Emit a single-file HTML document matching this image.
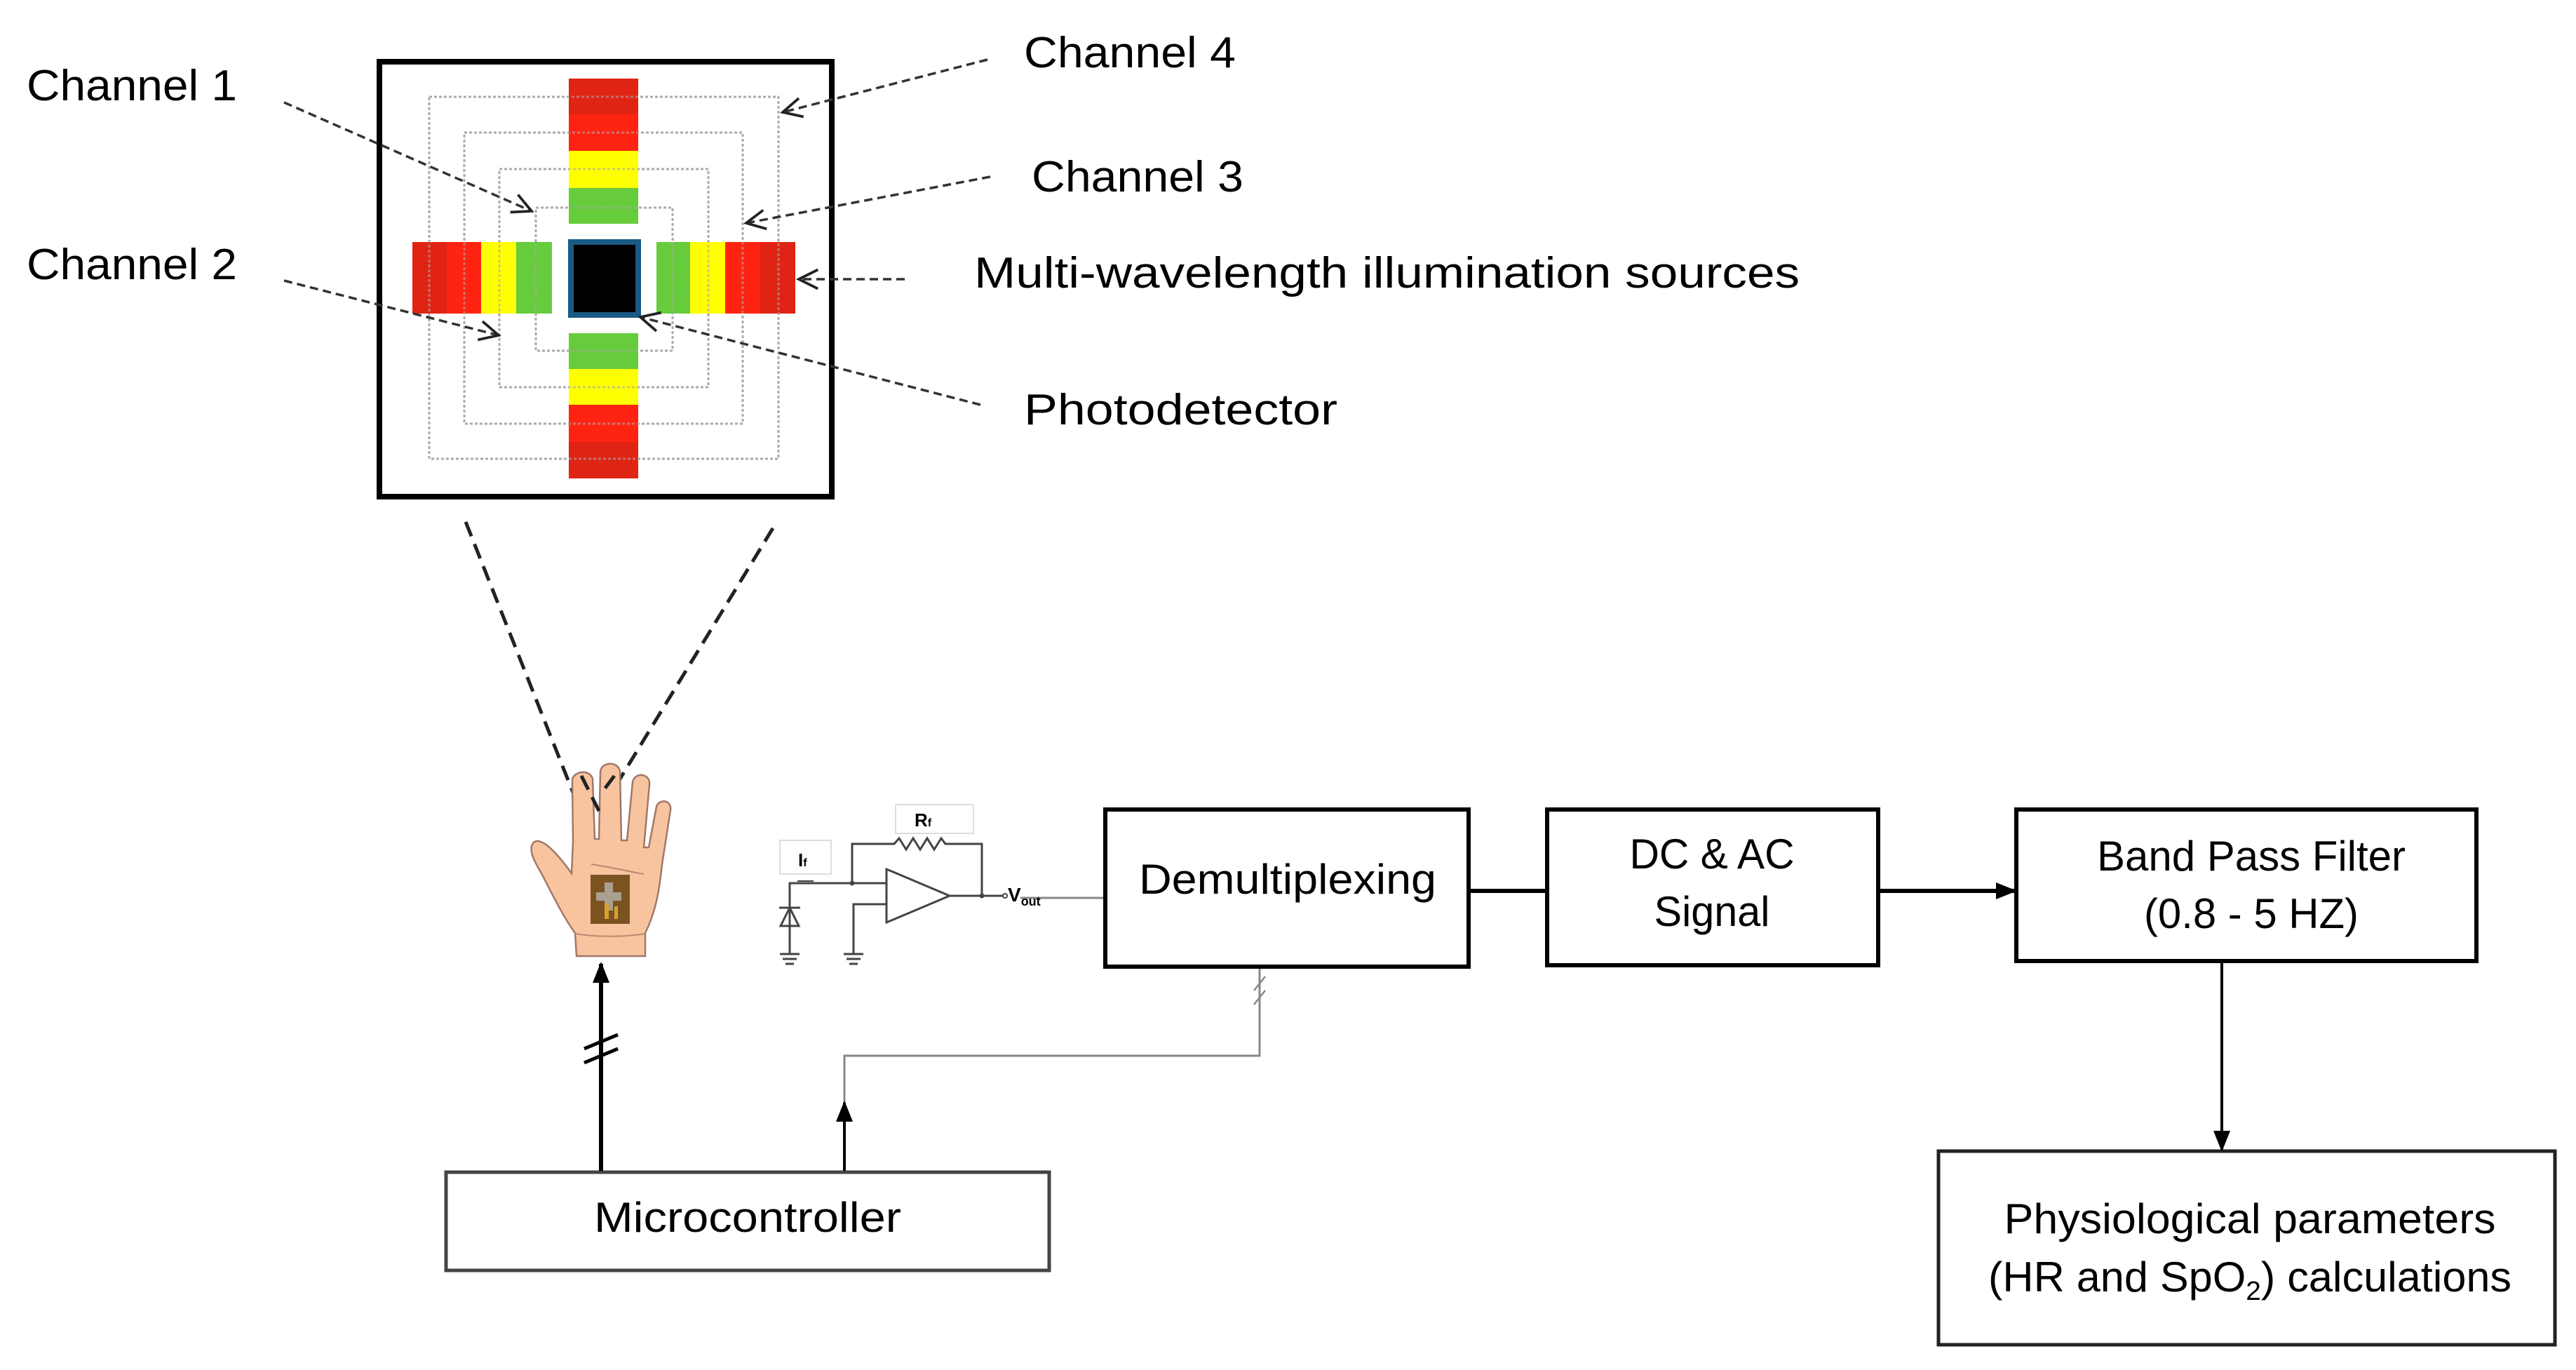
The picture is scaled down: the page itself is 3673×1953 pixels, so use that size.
<!DOCTYPE html>
<html><head><meta charset="utf-8"><style>
html,body{margin:0;padding:0;background:#fff;}
svg{display:block;}
text{font-family:"Liberation Sans",sans-serif;fill:#000;}
</style></head><body>
<svg width="3673" height="1953" viewBox="0 0 3673 1953" xmlns="http://www.w3.org/2000/svg">
<defs>
<marker id="open" viewBox="0 0 20 20" refX="18" refY="10" markerWidth="34" markerHeight="34" markerUnits="userSpaceOnUse" orient="auto">
<path d="M2,2 L18,10 L2,18" fill="none" stroke="#222" stroke-width="2.2"/>
</marker>
<marker id="solid" viewBox="0 0 20 20" refX="18" refY="10" markerWidth="30" markerHeight="30" markerUnits="userSpaceOnUse" orient="auto">
<path d="M0,2 L20,10 L0,18 Z" fill="#000"/>
</marker>
</defs>

<rect x="541" y="88" width="645" height="620" fill="#fff" stroke="#000" stroke-width="8"/>
<g fill="none" stroke="#aaa" stroke-width="3" stroke-dasharray="4,3">
<rect x="612" y="138" width="498" height="516"/>
<rect x="662" y="189" width="397" height="415"/>
<rect x="712" y="241" width="298" height="311"/>
<rect x="764" y="296" width="195" height="204"/>
</g>
<rect x="811" y="112" width="99" height="51" fill="#e02414"/>
<rect x="811" y="163" width="99" height="52" fill="#ff2412"/>
<rect x="811" y="215" width="99" height="53" fill="#ffff00"/>
<rect x="811" y="268" width="99" height="51" fill="#66cc3c"/>
<rect x="811" y="475" width="99" height="51" fill="#66cc3c"/>
<rect x="811" y="526" width="99" height="51" fill="#ffff00"/>
<rect x="811" y="577" width="99" height="53" fill="#ff2412"/>
<rect x="811" y="630" width="99" height="52" fill="#e02414"/>
<rect x="588" y="345" width="49" height="102" fill="#e02414"/>
<rect x="637" y="345" width="49" height="102" fill="#ff2412"/>
<rect x="686" y="345" width="50" height="102" fill="#ffff00"/>
<rect x="736" y="345" width="51" height="102" fill="#66cc3c"/>
<rect x="936" y="345" width="48" height="102" fill="#66cc3c"/>
<rect x="984" y="345" width="50" height="102" fill="#ffff00"/>
<rect x="1034" y="345" width="50" height="102" fill="#ff2412"/>
<rect x="1084" y="345" width="50" height="102" fill="#e02414"/>
<g fill="none" stroke="#aaa" stroke-width="3" stroke-dasharray="4,3" opacity="0.6">
<rect x="612" y="138" width="498" height="516"/>
<rect x="662" y="189" width="397" height="415"/>
<rect x="712" y="241" width="298" height="311"/>
<rect x="764" y="296" width="195" height="204"/>
</g>
<rect x="814" y="345" width="96" height="104" fill="#000" stroke="#1a5a86" stroke-width="8"/>

<g stroke="#333" stroke-width="3.5" stroke-dasharray="12,7" fill="none" marker-end="url(#open)">
<line x1="405" y1="146" x2="758" y2="301"/>
<line x1="405" y1="400" x2="711" y2="478"/>
<line x1="1408" y1="85" x2="1116" y2="160"/>
<line x1="1412" y1="252" x2="1064" y2="318"/>
<line x1="1290" y1="398" x2="1139" y2="398"/>
<line x1="1398" y1="577" x2="913" y2="452"/>
</g>

<text x="38" y="143" font-size="62" textLength="300" lengthAdjust="spacingAndGlyphs">Channel 1</text>
<text x="38" y="398" font-size="62" textLength="300" lengthAdjust="spacingAndGlyphs">Channel 2</text>
<text x="1460" y="96" font-size="62" textLength="302" lengthAdjust="spacingAndGlyphs">Channel 4</text>
<text x="1471" y="273" font-size="62" textLength="302" lengthAdjust="spacingAndGlyphs">Channel 3</text>
<text x="1389" y="410" font-size="62" textLength="1177" lengthAdjust="spacingAndGlyphs">Multi-wavelength illumination sources</text>
<text x="1460" y="605" font-size="62" textLength="447" lengthAdjust="spacingAndGlyphs">Photodetector</text>

<g stroke="#222" stroke-width="5" stroke-dasharray="22,12" fill="none">
<line x1="664" y1="744" x2="829" y2="1160"/>
<line x1="1102" y1="753" x2="872" y2="1130"/>
</g>

<path d="M822,1363 L820,1330 C805,1310 790,1280 772,1245 C760,1225 752,1208 762,1200 C772,1195 790,1210 815,1245 L817,1200 L816,1112 C817,1100 840,1095 845,1110 L848,1196 L854,1196 L856,1100 C858,1085 882,1085 884,1100 L886,1198 L894,1198 L902,1115 C905,1100 927,1102 926,1118 L918,1208 L925,1208 L936,1150 C940,1138 958,1140 956,1155 L944,1232 C940,1270 935,1300 920,1330 L920,1363 Z" fill="#f8c4a0" stroke="#a07868" stroke-width="2.5"/>
<g stroke="#b88a70" stroke-width="2" fill="none">
<path d="M820,1331 C850,1336 890,1336 920,1331"/>
<path d="M843,1232 C870,1236 895,1242 918,1246"/>
</g>
<g stroke="#222" stroke-width="5" stroke-dasharray="22,12"><line x1="829" y1="1106" x2="856" y2="1160"/><line x1="876" y1="1106" x2="858" y2="1130"/></g>
<rect x="842" y="1247" width="56" height="70" fill="#7a5320"/>
<path d="M862,1258 h12 v14 h12 v12 h-12 v14 h-12 v-14 h-12 v-12 h12 Z" fill="#a8a090"/>
<path d="M862,1288 v22 h6 v-22 Z M876,1292 v18 h5 v-18 Z" fill="#d8a030"/>

<rect x="636" y="1671" width="860" height="140" fill="#fff" stroke="#444" stroke-width="5"/>
<text x="1066" y="1756" font-size="60" text-anchor="middle" textLength="438" lengthAdjust="spacingAndGlyphs">Microcontroller</text>
<line x1="857" y1="1669" x2="857" y2="1374" stroke="#000" stroke-width="6" marker-end="url(#solid)"/>
<g stroke="#000" stroke-width="5"><line x1="833" y1="1495" x2="881" y2="1475"/><line x1="833" y1="1515" x2="881" y2="1495"/></g>

<polyline points="1204,1669 1204,1505 1796,1505 1796,1378" fill="none" stroke="#888" stroke-width="3"/>
<line x1="1204" y1="1669" x2="1204" y2="1572" stroke="#000" stroke-width="4" marker-end="url(#solid)"/>
<g stroke="#888" stroke-width="2.5"><line x1="1788" y1="1412" x2="1804" y2="1392"/><line x1="1788" y1="1432" x2="1804" y2="1412"/></g>

<g stroke="#444" stroke-width="3" fill="none">
<rect x="1112" y="1198" width="73" height="48" stroke="#ddd" stroke-width="2"/>
<rect x="1277" y="1147" width="111" height="41" stroke="#ddd" stroke-width="2"/>
<polyline points="1126,1360 1126,1259 1264,1259"/>
<polyline points="1215,1259 1215,1203 1275,1203 1282,1195 1292,1211 1302,1195 1312,1211 1322,1195 1332,1211 1342,1195 1348,1203 1400,1203 1400,1277"/>
<polygon points="1264,1239 1354,1277 1264,1315"/>
<polyline points="1264,1289 1217,1289 1217,1360"/>
<line x1="1354" y1="1277" x2="1430" y2="1277"/>
<polygon points="1113,1320 1126,1294 1139,1320"/>
<line x1="1111" y1="1294" x2="1141" y2="1294"/>
<line x1="1112" y1="1360" x2="1140" y2="1360"/><line x1="1116" y1="1367" x2="1136" y2="1367"/><line x1="1120" y1="1374" x2="1132" y2="1374"/>
<line x1="1203" y1="1360" x2="1231" y2="1360"/><line x1="1207" y1="1367" x2="1227" y2="1367"/><line x1="1211" y1="1374" x2="1223" y2="1374"/>
<line x1="1137" y1="1256" x2="1160" y2="1256" stroke-width="2"/>
</g>
<circle cx="1215" cy="1259" r="3.5" fill="#444"/><circle cx="1400" cy="1277" r="3.5" fill="#444"/>
<circle cx="1433" cy="1277" r="3" fill="#fff" stroke="#444" stroke-width="2"/>
<line x1="1455" y1="1280" x2="1576" y2="1280" stroke="#888" stroke-width="3"/>
<text x="1138" y="1235" font-size="26" font-family="Liberation Serif" font-weight="bold" fill="#333">I<tspan font-size="16">f</tspan></text>
<text x="1304" y="1178" font-size="26" font-family="Liberation Serif" font-weight="bold" fill="#333">R<tspan font-size="16">f</tspan></text>
<text x="1437" y="1285" font-size="28" font-weight="bold" fill="#333">V<tspan font-size="18" dy="6">out</tspan></text>

<g fill="#fff" stroke="#000" stroke-width="6">
<rect x="1576" y="1154" width="518" height="224"/>
<rect x="2206" y="1154" width="472" height="222"/>
<rect x="2875" y="1154" width="656" height="216"/>
</g>
<rect x="2764" y="1641" width="879" height="276" fill="#fff" stroke="#222" stroke-width="5"/>
<line x1="2094" y1="1270" x2="2206" y2="1270" stroke="#000" stroke-width="6"/>
<line x1="2678" y1="1270" x2="2873" y2="1270" stroke="#000" stroke-width="6" marker-end="url(#solid)"/>
<line x1="3168" y1="1370" x2="3168" y2="1639" stroke="#000" stroke-width="4" marker-end="url(#solid)"/>

<text x="1836" y="1274" font-size="60" text-anchor="middle" textLength="424" lengthAdjust="spacingAndGlyphs">Demultiplexing</text>
<text x="2441" y="1238" font-size="60" text-anchor="middle" textLength="235" lengthAdjust="spacingAndGlyphs">DC &amp; AC</text>
<text x="2441" y="1320" font-size="60" text-anchor="middle" textLength="165" lengthAdjust="spacingAndGlyphs">Signal</text>
<text x="3210" y="1241" font-size="60" text-anchor="middle" textLength="440" lengthAdjust="spacingAndGlyphs">Band Pass Filter</text>
<text x="3210" y="1323" font-size="60" text-anchor="middle" textLength="306" lengthAdjust="spacingAndGlyphs">(0.8 - 5 HZ)</text>
<text x="3208" y="1758" font-size="60" text-anchor="middle" textLength="701" lengthAdjust="spacingAndGlyphs">Physiological parameters</text>
<text x="3208" y="1841" font-size="60" text-anchor="middle" textLength="746" lengthAdjust="spacingAndGlyphs">(HR and SpO<tspan font-size="38" dy="12">2</tspan><tspan dy="-12">) calculations</tspan></text>
</svg>
</body></html>
